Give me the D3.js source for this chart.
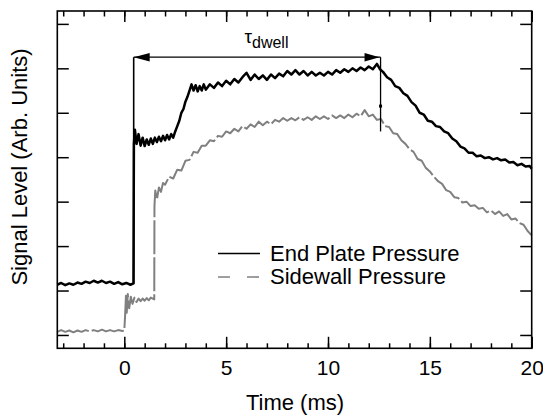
<!DOCTYPE html>
<html><head><meta charset="utf-8">
<script src="https://cdn.jsdelivr.net/npm/d3@7"></script>
<style>
html,body{margin:0;padding:0;background:#fff;}
svg{display:block;font-family:"Liberation Sans",Arial,sans-serif;}
</style></head>
<body><svg id="c" width="543" height="416"></svg>
<script>
// ---- data (time in ms, signal in arbitrary units) ----
const endPlate = [[-3.29,1.13],[-3.1,1.17],[-2.9,1.12],[-2.7,1.16],[-2.5,1.13],[-2.3,1.18],[-2.1,1.15],[-1.9,1.2],[-1.7,1.17],[-1.5,1.22],[-1.3,1.18],[-1.1,1.22],[-0.9,1.17],[-0.7,1.2],[-0.5,1.15],[-0.3,1.19],[-0.1,1.14],[0.1,1.17],[0.3,1.13],[0.45,1.16],
[0.47,4.3],[0.52,4.62],[0.6,4.3],[0.7,4.52],[0.8,4.26],[0.9,4.44],[1.0,4.25],[1.1,4.4],[1.2,4.28],[1.3,4.42],[1.4,4.3],[1.5,4.44],[1.6,4.34],[1.7,4.46],[1.8,4.36],[1.9,4.48],[2.0,4.38],[2.1,4.5],[2.2,4.4],[2.3,4.52],[2.4,4.44],[2.5,4.58],
[2.6,4.7],[2.7,4.82],[2.8,5.0],[2.9,5.08],[3.0,5.25],[3.1,5.36],[3.2,5.5],[3.3,5.64],[3.4,5.5],[3.5,5.62],[3.6,5.48],[3.7,5.6],[3.8,5.5],[3.9,5.64],[4.0,5.52],[4.2,5.64],[4.4,5.56],[4.6,5.68],[4.8,5.6],[5.0,5.72],[5.2,5.64],[5.4,5.76],[5.6,5.68],[5.8,5.8],
[6.0,5.9],[6.2,5.74],[6.4,5.86],[6.6,5.76],[6.8,5.84],[7.0,5.74],[7.2,5.86],[7.4,5.78],[7.6,5.88],[7.8,5.82],[8.0,5.94],[8.2,5.86],[8.4,5.96],[8.6,5.86],[8.8,5.94],[9.0,5.84],[9.2,5.92],[9.4,5.84],[9.6,5.9],[9.8,5.84],
[10.0,5.92],[10.2,5.86],[10.4,5.96],[10.6,5.9],[10.8,5.98],[11.0,5.92],[11.2,6.0],[11.4,5.94],[11.6,6.02],[11.8,5.96],[12.0,6.04],[12.2,5.98],[12.4,6.1],[12.55,5.98],[12.7,5.92],[12.9,5.8],
[13.1,5.74],[13.3,5.6],[13.5,5.56],[13.7,5.44],[13.9,5.38],[14.1,5.24],[14.3,5.16],[14.5,5.0],[14.7,4.96],[14.9,4.82],[15.1,4.8],[15.3,4.7],[15.5,4.68],[15.7,4.58],[15.9,4.54],[16.1,4.42],[16.3,4.36],[16.5,4.24],[16.7,4.2],[16.9,4.1],
[17.1,4.1],[17.3,4.02],[17.5,4.04],[17.7,3.98],[17.9,4.0],[18.1,3.95],[18.3,3.98],[18.5,3.93],[18.7,3.95],[18.9,3.88],[19.1,3.89],[19.3,3.82],[19.5,3.85],[19.7,3.79],[19.9,3.8],[20.0,3.74]];

const sidewall = [[-3.29,0.07],[-3.1,0.11],[-2.9,0.07],[-2.7,0.1],[-2.5,0.06],[-2.3,0.1],[-2.1,0.07],[-1.9,0.11],[-1.7,0.08],[-1.5,0.11],[-1.3,0.08],[-1.1,0.12],[-0.9,0.08],[-0.7,0.11],[-0.5,0.08],[-0.3,0.11],[-0.1,0.09],[0.0,0.1],
[0.04,0.45],[0.08,0.88],[0.12,0.5],[0.17,0.92],[0.24,0.6],[0.32,0.86],[0.4,0.7],[0.5,0.84],[0.6,0.74],[0.7,0.82],[0.8,0.76],[0.9,0.82],[1.0,0.77],[1.1,0.83],[1.2,0.78],[1.3,0.84],[1.47,0.8],
[1.48,2.9],[1.52,3.25],[1.6,3.05],[1.7,3.32],[1.8,3.22],[1.9,3.42],[2.0,3.38],[2.2,3.56],[2.4,3.52],[2.6,3.72],[2.8,3.7],[3.0,3.92],[3.2,3.94],[3.4,4.12],[3.6,4.1],[3.8,4.26],[4.0,4.26],[4.2,4.38],[4.4,4.36],[4.6,4.48],[4.8,4.46],
[5.0,4.58],[5.2,4.54],[5.4,4.64],[5.6,4.58],[5.8,4.7],[6.0,4.64],[6.2,4.74],[6.4,4.68],[6.6,4.8],[6.8,4.72],[7.0,4.8],[7.2,4.74],[7.4,4.84],[7.6,4.8],[7.8,4.88],[8.0,4.82],[8.2,4.88],[8.4,4.83],[8.6,4.9],[8.8,4.84],
[9.0,4.9],[9.2,4.84],[9.4,4.92],[9.6,4.86],[9.8,4.92],[10.0,4.86],[10.2,4.94],[10.4,4.88],[10.6,4.94],[10.8,4.88],[11.0,4.96],[11.2,4.9],[11.4,4.98],[11.6,4.92],[11.8,5.06],[12.0,4.92],[12.2,4.96],[12.4,4.84],[12.6,4.86],[12.8,4.7],
[13.0,4.68],[13.2,4.54],[13.4,4.52],[13.6,4.38],[13.8,4.3],[14.0,4.18],[14.2,4.12],[14.4,3.96],[14.6,3.92],[14.8,3.76],[15.0,3.68],[15.2,3.56],[15.4,3.46],[15.6,3.4],[15.8,3.26],[16.0,3.22],[16.2,3.1],[16.4,3.08],[16.6,2.98],[16.8,3.0],
[17.0,2.9],[17.2,2.92],[17.4,2.84],[17.6,2.86],[17.8,2.76],[18.0,2.8],[18.2,2.72],[18.4,2.78],[18.6,2.68],[18.8,2.72],[19.0,2.6],[19.2,2.62],[19.4,2.52],[19.6,2.48],[19.8,2.34],[20.0,2.24]];

const xMajorTicks = [0, 5, 10, 15, 20];
const xMinorTicks = [-3,-2,-1,0,1,2,3,4,5,6,7,8,9,10,11,12,13,14,15,16,17,18,19,20];
const yTicks = [0, 1, 2, 3, 4, 5, 6, 7];
const xDomain = [-3.29, 20];
const yDomain = [-0.3, 7.29];
const dwell = { start: 0.46, end: 12.58, level: 6.25, startBottom: 1.16, endBottom: 4.58, marker: 5.15 };
const dwellLabel = { main: "τ", sub: "dwell" };
const legendLabels = ["End Plate Pressure", "Sidewall Pressure"];
const xTitle = "Time (ms)";
const yTitle = "Signal Level (Arb. Units)";

// ---- layout ----
const svg = d3.select("#c");
const L = 57.3, T = 11, R = 531.7, B = 348.3;
const x = d3.scaleLinear().domain(xDomain).range([L, R]);
const y = d3.scaleLinear().domain(yDomain).range([B, T]);
const black = "#000", gray = "#808080";

// data lines
const line = d3.line().x(d => x(d[0])).y(d => y(d[1]));
svg.append("path").datum(sidewall).attr("d", line)
  .attr("fill", "none").attr("stroke", gray).attr("stroke-width", 2)
  .attr("stroke-dasharray", "34,3").attr("stroke-linejoin", "round");
svg.append("path").datum(endPlate).attr("d", line)
  .attr("fill", "none").attr("stroke", black).attr("stroke-width", 2.5)
  .attr("stroke-linejoin", "round");

// axes (ticks pointing inward)
function styleAxis(g) {
  g.select(".domain").remove();
  g.selectAll(".tick line").attr("stroke", black).attr("stroke-width", 1.5);
  g.selectAll(".tick text").attr("fill", black).attr("font-size", 21);
}
svg.append("g").attr("transform", `translate(0,${B})`)
  .call(d3.axisBottom(x).tickValues(xMinorTicks).tickSizeInner(-5).tickSizeOuter(0).tickFormat(""))
  .call(styleAxis);
svg.append("g").attr("transform", `translate(0,${B})`)
  .call(d3.axisBottom(x).tickValues(xMajorTicks).tickSizeInner(-11.5).tickSizeOuter(0).tickPadding(12).tickFormat(d3.format("d")))
  .call(styleAxis);
svg.append("g").attr("transform", `translate(0,${T})`)
  .call(d3.axisTop(x).tickValues(xMinorTicks).tickSizeInner(-5.5).tickSizeOuter(0).tickFormat(""))
  .call(styleAxis);
svg.append("g").attr("transform", `translate(0,${T})`)
  .call(d3.axisTop(x).tickValues(xMajorTicks).tickSizeInner(-11).tickSizeOuter(0).tickFormat(""))
  .call(styleAxis);
svg.append("g").attr("transform", `translate(${L},0)`)
  .call(d3.axisLeft(y).tickValues(yTicks).tickSizeInner(-11.5).tickSizeOuter(0).tickFormat(""))
  .call(styleAxis);
svg.append("g").attr("transform", `translate(${R},0)`)
  .call(d3.axisRight(y).tickValues(yTicks).tickSizeInner(-11.5).tickSizeOuter(0).tickFormat(""))
  .call(styleAxis);

// frame
svg.append("rect").attr("x", L).attr("y", T).attr("width", R - L).attr("height", B - T)
  .attr("fill", "none").attr("stroke", black).attr("stroke-width", 1.6);

// dwell annotation
const ax0 = x(dwell.start), ax1 = x(dwell.end), ay = y(dwell.level);
svg.append("line").attr("x1", ax0).attr("x2", ax1).attr("y1", ay).attr("y2", ay)
  .attr("stroke", black).attr("stroke-width", 1.3);
svg.append("line").attr("x1", ax0).attr("x2", ax0).attr("y1", ay).attr("y2", y(dwell.startBottom))
  .attr("stroke", black).attr("stroke-width", 1.6);
svg.append("line").attr("x1", ax1).attr("x2", ax1).attr("y1", ay).attr("y2", y(dwell.endBottom))
  .attr("stroke", black).attr("stroke-width", 1.3);
svg.append("path").attr("d", `M${ax0},${ay}L${ax0 + 16},${ay - 4.2}L${ax0 + 16},${ay + 4.2}Z`).attr("fill", black);
svg.append("path").attr("d", `M${ax1 - 1},${ay}L${ax1 - 16},${ay - 4.2}L${ax1 - 16},${ay + 4.2}Z`).attr("fill", black);
svg.append("rect").attr("x", ax1 - 1.5).attr("y", y(dwell.marker) - 1.5).attr("width", 3).attr("height", 3).attr("fill", black);

const tl = svg.append("text").attr("x", 244.5).attr("y", 42.5).attr("font-size", 19).attr("fill", black);
tl.append("tspan").text(dwellLabel.main);
tl.append("tspan").attr("dy", 5).attr("font-size", 16).text(dwellLabel.sub);

// legend
const lx0 = 218, lx1 = 260;
svg.append("line").attr("x1", lx0).attr("x2", lx1).attr("y1", 253.5).attr("y2", 253.5)
  .attr("stroke", black).attr("stroke-width", 1.6);
svg.append("line").attr("x1", lx0).attr("x2", lx1).attr("y1", 277).attr("y2", 277)
  .attr("stroke", gray).attr("stroke-width", 1.6).attr("stroke-dasharray", "12,17");
svg.append("text").attr("x", 270).attr("y", 260.5).attr("font-size", 22).attr("fill", black).text(legendLabels[0]);
svg.append("text").attr("x", 270).attr("y", 284).attr("font-size", 22).attr("fill", black).text(legendLabels[1]);

// axis titles
svg.append("text").attr("x", 295).attr("y", 410).attr("text-anchor", "middle")
  .attr("font-size", 22).attr("fill", black).text(xTitle);
svg.append("text").attr("transform", "translate(27,167) rotate(-90)").attr("text-anchor", "middle")
  .attr("font-size", 22).attr("fill", black).text(yTitle);
</script></body></html>
